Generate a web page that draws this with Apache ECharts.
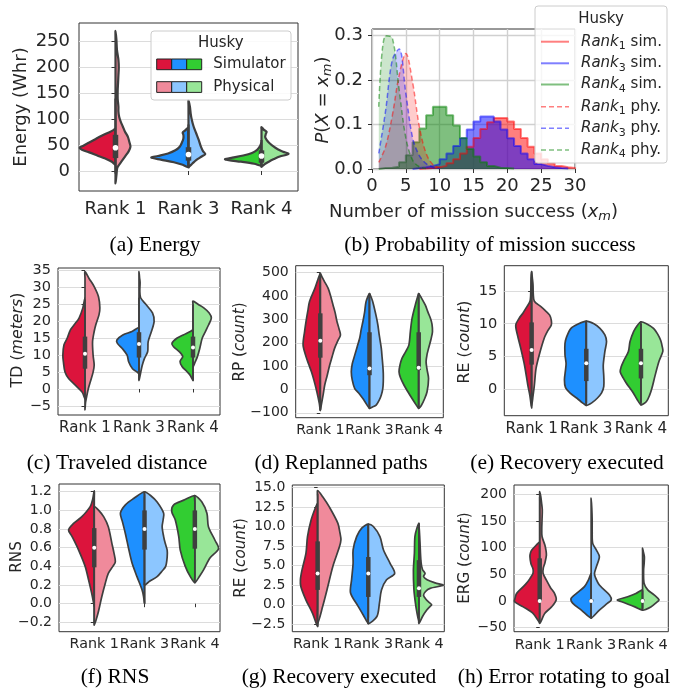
<!DOCTYPE html>
<html><head><meta charset="utf-8">
<script src="https://cdn.jsdelivr.net/npm/echarts@6/dist/echarts.min.js"></script>
<style>html,body{margin:0;padding:0;background:#fff}#c{width:679px;height:692px}</style>
</head><body><div id="c"></div><script>
const ranks = ['Rank 1', 'Rank 3', 'Rank 4'];
const simColors = ['#dc143c', '#1e90ff', '#32cd32'];
const phyColors = ['#f08a9b', '#8cc6ff', '#98e698'];

// ---------- (a) Energy ----------
const energyTicks = [0, 50, 100, 150, 200, 250];
const energySim = [
  [[12,0],[18,0.05],[24,0.14],[30,0.25],[36,0.36],[41,0.46],[45,0.49],[49,0.44],[55,0.36],[62,0.27],[68,0.19],[74,0.1],[79,0.03],[82,0]],
  [[7,0],[12,0.08],[17,0.2],[22,0.38],[26,0.51],[29,0.42],[34,0.28],[40,0.18],[47,0.12],[55,0.09],[63,0.07],[70,0.07],[74,0.08],[78,0.05],[84,0]],
  [[10,0],[14,0.1],[18,0.28],[21,0.45],[23,0.5],[26,0.4],[30,0.25],[35,0.13],[41,0.06],[48,0.02],[55,0]]
];
const energyPhy = [
  [[-24,0],[-12,0.01],[-5,0.015],[3,0.02],[8,0.03],[18,0.08],[28,0.13],[38,0.18],[47,0.205],[56,0.19],[66,0.17],[76,0.13],[86,0.1],[96,0.07],[105,0.05],[115,0.04],[124,0.04],[140,0.03],[155,0.03],[170,0.035],[185,0.04],[200,0.045],[215,0.04],[234,0.02],[255,0.012],[271,0]],
  [[8,0],[14,0.05],[21,0.105],[28,0.18],[33,0.23],[38,0.2],[47,0.17],[60,0.14],[73,0.105],[86,0.07],[99,0.045],[111,0.03],[124,0.02],[137,0]],
  [[8,0],[13,0.04],[18,0.1],[23,0.17],[28,0.25],[33,0.37],[37,0.3],[40,0.25],[45,0.19],[50,0.14],[55,0.1],[60,0.07],[66,0.05],[72,0.06],[76,0.07],[80,0.03],[85,0]]
];
const energyBox = [[-5,25,45,70,140],[8,20,32,46,90],[10,16,29,40,60]];

// ---------- (b) Probability of mission success ----------
const histX1 = [7,8,9,10,11,12,13,14,15,16,17,18,19,20,21,22,23,24,25,26,27,28,29];
const histP1 = [0.001,0.002,0.004,0.007,0.013,0.022,0.035,0.05,0.07,0.09,0.105,0.115,0.115,0.107,0.09,0.07,0.05,0.035,0.022,0.013,0.007,0.004,0.002];
const histX3 = [6,7,8,9,10,11,12,13,14,15,16,17,18,19,20,21,22,23,24,25,26,27,28];
const histP3 = [0.002,0.004,0.007,0.011,0.022,0.035,0.052,0.069,0.089,0.107,0.118,0.118,0.107,0.089,0.069,0.052,0.035,0.022,0.011,0.007,0.004,0.002,0.001];
const histX4 = [1,2,3,4,5,6,7,8,9,10,11,12,13,14,15,16,17,18,19,20];
const histP4 = [0.002,0.003,0.005,0.015,0.031,0.06,0.091,0.121,0.14,0.14,0.121,0.098,0.07,0.045,0.028,0.015,0.007,0.003,0.002,0.001];
const phyX1 = [1,2,3,4,5,6,7,8,9,10];
const phyP1 = [0.015,0.05,0.12,0.21,0.26,0.195,0.095,0.035,0.01,0.003];
const phyX3 = [1,2,3,4,5,6,7,8,9,10];
const phyP3 = [0.035,0.13,0.245,0.27,0.17,0.07,0.03,0.012,0.004,0.001];
const phyX4 = [1,2,3,4,5,6,7,8];
const phyP4 = [0.14,0.3,0.295,0.18,0.07,0.02,0.005,0.001];
const probTicks = [0, 0.1, 0.2, 0.3];

// ---------- (c) Traveled distance ----------
const tdTicks = [-5,0,5,10,15,20,25,30,35];
const tdSim = [
  [[-3,0],[-1,0.05],[1,0.17],[3,0.3],[5,0.37],[8,0.4],[10,0.41],[13,0.39],[15,0.33],[17.5,0.27],[19,0.2],[21,0.11],[24,0.04],[27,0]],
  [[4.5,0],[5.1,0.04],[6,0.12],[8,0.19],[10,0.22],[12,0.31],[13.5,0.4],[14.5,0.41],[16,0.3],[17,0.13],[18.2,0]],
  [[2.5,0],[4,0.05],[5.1,0.11],[6.6,0.2],[8.1,0.24],[9.6,0.19],[11,0.25],[12.5,0.36],[13.5,0.39],[15,0.3],[16,0.18],[17,0.05],[17.5,0]]
];
const tdPhy = [
  [[-6.2,0],[-4,0.01],[-2.7,0.025],[0,0.06],[2.2,0.1],[5,0.15],[7.1,0.17],[10,0.15],[14,0.14],[17,0.17],[19,0.2],[22,0.26],[24,0.275],[27.3,0.25],[30.3,0.17],[32.7,0.075],[34.7,0]],
  [[2.5,0],[4,0.02],[7,0.06],[9,0.1],[11,0.16],[14,0.17],[17,0.23],[20,0.28],[22.5,0.25],[25,0.13],[27,0.03],[29,0.015],[31.5,0.02],[33,0.01],[34.7,0]],
  [[6.5,0],[8,0.04],[9.5,0.08],[12,0.125],[15,0.17],[17,0.23],[19,0.29],[21,0.34],[22.5,0.3],[24,0.2],[25,0.1],[26,0]]
];
const tdBox = [[-2,6,10.4,15.5,26.5],[2.7,9.3,13.3,16.8,27],[2.5,9.3,12.3,15.5,25]];

// ---------- (d) Replanned paths ----------
const rpTicks = [-100,0,100,200,300,400,500];
const rpSim = [
  [[-90,0],[-60,0.02],[-10,0.07],[40,0.13],[76,0.18],[110,0.24],[147,0.3],[190,0.35],[247,0.32],[304,0.28],[340,0.25],[376,0.22],[433,0.11],[470,0.05],[497,0]],
  [[-81,0],[-60,0.07],[-39,0.135],[-15,0.22],[4,0.3],[40,0.35],[76,0.37],[110,0.35],[147,0.3],[183,0.25],[219,0.2],[255,0.17],[290,0.135],[330,0.1],[376,0.07],[411,0]],
  [[-81,0],[-60,0.07],[-39,0.135],[-10,0.22],[19,0.3],[50,0.37],[76,0.4],[105,0.38],[133,0.34],[160,0.27],[190,0.2],[247,0.17],[304,0.135],[361,0.07],[411,0]]
];
const rpPhy = [
  [[-90,0],[-67,0.02],[-20,0.06],[19,0.09],[60,0.14],[104,0.19],[140,0.24],[176,0.29],[210,0.36],[233,0.41],[260,0.38],[290,0.34],[330,0.3],[361,0.26],[400,0.21],[433,0.16],[460,0.09],[480,0.04],[497,0]],
  [[-81,0],[-75,0.06],[-67,0.135],[-45,0.2],[-24,0.24],[4,0.27],[33,0.28],[70,0.28],[104,0.27],[140,0.255],[176,0.24],[230,0.2],[276,0.17],[310,0.14],[347,0.1],[380,0.06],[411,0]],
  [[-81,0],[-70,0.05],[-40,0.12],[-10,0.17],[47,0.2],[85,0.17],[119,0.15],[150,0.17],[176,0.2],[215,0.25],[247,0.28],[280,0.27],[304,0.24],[330,0.19],[361,0.135],[390,0.06],[411,0]]
];
const rpBox = [[-88,136,209,326,495],[-80,61,90,245,410],[-80,83,93,245,410]];

// ---------- (e) Recovery executed ----------
const re1Ticks = [0,5,10,15];
const re1Sim = [
  [[-2.8,0],[-1,0.03],[0.7,0.07],[3.7,0.13],[6.3,0.2],[8.3,0.26],[9.8,0.29],[10.8,0.23],[11.6,0.16],[12.4,0.1],[13.4,0.03],[15,0.015],[17,0.01],[17.9,0]],
  [[-2.4,0],[-2,0.07],[-1.3,0.17],[-0.5,0.3],[0.3,0.38],[1.5,0.4],[3,0.38],[4,0.37],[5.3,0.39],[7,0.39],[8,0.36],[9.3,0.28],[10,0.14],[10.4,0]],
  [[-2.3,0],[-1.5,0.07],[-0.5,0.14],[0.2,0.2],[1,0.27],[1.7,0.32],[2.7,0.38],[3.5,0.36],[4.3,0.32],[5.8,0.23],[7.3,0.2],[8.8,0.135],[9.7,0.07],[10.3,0]]
];
const re1Phy = [
  [[-2.5,0],[-1,0.025],[0.7,0.05],[3.2,0.08],[5.3,0.14],[7.8,0.23],[9,0.3],[9.8,0.36],[10.5,0.36],[11.3,0.33],[12,0.25],[12.6,0.17],[13.4,0.05],[14.5,0.03],[15.9,0.025],[17,0.012],[17.9,0]],
  [[-2.4,0],[-2,0.1],[-1.3,0.2],[-0.5,0.28],[0.5,0.32],[2,0.32],[3.7,0.31],[5.8,0.34],[7.3,0.37],[8.3,0.34],[9.3,0.25],[10,0.14],[10.4,0]],
  [[-2.3,0],[-1.8,0.1],[-0.8,0.16],[0.2,0.2],[2.2,0.26],[4.3,0.33],[5.8,0.4],[6.5,0.39],[7.5,0.36],[8.5,0.3],[9.3,0.23],[10,0.1],[10.3,0]]
];
const re1Box = [[-2,3.8,6,10.2,17],[-2,1.3,4,6.2,10.3],[-2,1.7,4,6.2,10]];

// ---------- (f) RNS ----------
const rnsTicks = [-0.2,0.0,0.2,0.4,0.6,0.8,1.0,1.2];
const rnsSim = [
  [[-0.03,0],[0.0,0.01],[0.11,0.05],[0.25,0.11],[0.4,0.18],[0.575,0.31],[0.72,0.44],[0.79,0.51],[0.86,0.41],[0.93,0.25],[1.04,0.08],[1.12,0.03],[1.21,0]],
  [[0,0],[0.08,0.02],[0.15,0.05],[0.29,0.15],[0.43,0.245],[0.575,0.31],[0.75,0.38],[0.88,0.44],[0.97,0.48],[1.06,0.38],[1.13,0.21],[1.2,0]],
  [[0.225,0],[0.29,0.09],[0.4,0.19],[0.575,0.29],[0.72,0.32],[0.9,0.39],[0.99,0.46],[1.06,0.42],[1.11,0.22],[1.16,0]]
];
const rnsPhy = [
  [[-0.23,0],[-0.15,0.05],[-0.07,0.09],[0.075,0.15],[0.22,0.22],[0.325,0.28],[0.4,0.37],[0.45,0.42],[0.55,0.39],[0.65,0.35],[0.825,0.28],[0.93,0.19],[1.0,0.09],[1.04,0]],
  [[0.2,0],[0.24,0.1],[0.29,0.25],[0.35,0.35],[0.4,0.42],[0.5,0.45],[0.575,0.45],[0.65,0.41],[0.72,0.38],[0.825,0.35],[0.9,0.37],[0.97,0.38],[1.09,0.25],[1.16,0.12],[1.2,0]],
  [[0.225,0],[0.3,0.1],[0.36,0.17],[0.49,0.3],[0.59,0.47],[0.68,0.4],[0.825,0.27],[0.97,0.24],[1.09,0.14],[1.16,0]]
];
const rnsBox = [[-0.2,0.39,0.6,0.81,1.2],[0.0,0.58,0.8,1.0,1.2],[0.225,0.59,0.8,1.0,1.16]];

// ---------- (g) Recovery executed ----------
const re2Ticks = [-2.5,0,2.5,5,7.5,10,12.5,15];
const re2Sim = [
  [[-2.8,0],[-1.1,0.1],[0.6,0.23],[2.3,0.33],[3.2,0.34],[4.4,0.31],[6.6,0.23],[8.7,0.2],[10.8,0.13],[12.3,0.05],[13,0]],
  [[-2.4,0],[-1.3,0.1],[-0.2,0.2],[1.5,0.35],[3.2,0.33],[5.3,0.3],[7.0,0.3],[8.7,0.23],[9.8,0.13],[10.3,0]],
  [[-2.2,0],[-1,0.04],[0.2,0.07],[2,0.1],[4.4,0.11],[6.6,0.09],[8.7,0.08],[9.8,0.04],[10.4,0]]
];
const re2Phy = [
  [[-2.4,0],[-0.2,0.1],[2.3,0.2],[4.9,0.3],[7.4,0.43],[8.3,0.46],[9.2,0.44],[10.4,0.4],[12.5,0.23],[13.8,0.1],[14.6,0]],
  [[-2.4,0],[-1.5,0.17],[0.2,0.22],[1.9,0.26],[3.2,0.36],[4.0,0.52],[5.3,0.43],[7.0,0.3],[8.7,0.23],[10.0,0.1],[10.3,0]],
  [[-2.4,0],[-1.5,0.07],[-0.7,0.15],[-0.2,0.22],[0,0.25],[0.3,0.2],[0.6,0.15],[1.2,0.09],[1.7,0.13],[2.1,0.22],[2.5,0.48],[2.8,0.32],[3.2,0.16],[3.6,0.09],[4.0,0.12],[4.5,0.07],[5.5,0.04],[8,0.02],[10.4,0]]
];
const re2Box = [[-2.3,1.9,4,8.1,14.2],[-2.3,1.0,4,6.1,10.3],[-2.3,1.0,2.1,5.7,10.3]];

// ---------- (h) Error rotating to goal ----------
const ergTicks = [-50,0,50,100,150,200];
const ergSim = [
  [[-40,0],[-23,0.13],[-11,0.32],[-1,0.49],[5,0.48],[14,0.45],[25,0.34],[33,0.26],[42,0.19],[52,0.13],[60,0.13],[70,0.17],[83,0.19],[90,0.18],[96,0.15],[105,0.065],[111,0]],
  [[-32,0],[-17,0.19],[-4,0.36],[5,0.39],[14,0.29],[27,0.13],[40,0.05],[52,0]],
  [[-17,0],[-11,0.15],[-1,0.42],[2,0.49],[8,0.29],[14,0.13],[21,0]]
];
const ergPhy = [
  [[-42,0],[-23,0.1],[-11,0.23],[2,0.32],[14,0.29],[25,0.21],[39,0.13],[52,0.065],[62,0.07],[71,0.1],[86,0.13],[96,0.12],[105,0.1],[121,0.045],[135,0.04],[152,0.045],[171,0.05],[185,0.035],[196,0.02],[205,0]],
  [[-32,0],[-17,0.16],[-4,0.32],[2,0.39],[11,0.36],[30,0.16],[45,0.08],[52,0.065],[64,0.1],[83,0.16],[96,0.1],[108,0.03],[130,0.02],[152,0.02],[175,0.012],[193,0]],
  [[-17,0],[-11,0.16],[-1,0.29],[2,0.32],[11,0.23],[21,0.1],[33,0.03],[58,0.02],[70,0.03],[83,0.035],[92,0.015],[99,0]]
];
const ergBox = [[-40,-1,0,80,195],[-30,-1,0,3,50],[-15,-1,0,3,20]];

// ================= build =================
const SANS = 'DejaVu Sans';
const SERIF = 'Liberation Serif';
const TXT = '#262626';
const OUT = '#3f3f3f';
const minus = s => String(s).replace('-', '\u2212');

const option = { animation: false, backgroundColor: '#ffffff', grid: [], xAxis: [], yAxis: [], series: [], graphic: [] };

function addViolinPanel(P) {
  const gi = option.grid.length;
  const big = !!P.big;
  option.grid.push({ left: P.g[0], top: P.g[1], width: P.g[2], height: P.g[3], show: true,
    borderColor: '#333333', borderWidth: 1, backgroundColor: 'rgba(0,0,0,0)' });
  option.xAxis.push({ gridIndex: gi, type: 'value', min: P.x[0], max: P.x[1],
    axisLine: { show: false }, splitLine: { show: false },
    axisTick: { show: true, customValues: [0, 1, 2], length: big ? 4 : 3.5, lineStyle: { color: '#333', width: 1 } },
    axisLabel: { customValues: [0, 1, 2], formatter: v => ranks[Math.round(v)], fontSize: P.fx, fontFamily: SANS, color: TXT, margin: big ? 9 : 6 } });
  option.yAxis.push({ gridIndex: gi, type: 'value', min: P.y[0], max: P.y[1],
    axisLine: { show: false },
    axisTick: { show: true, customValues: P.ticks, length: big ? 4 : 3.5, lineStyle: { color: '#333', width: 1 } },
    axisLabel: { customValues: P.ticks, formatter: v => minus(v.toFixed(P.dec)), fontSize: P.fy, fontFamily: SANS, color: TXT, margin: big ? 9 : 7 },
    splitLine: { show: true, lineStyle: { color: '#dcdcdc', width: 1.2 } } });
  const lw = big ? 2.2 : 1.7;
  option.series.push({
    type: 'custom', xAxisIndex: gi, yAxisIndex: gi, z: 3,
    data: ranks.map((r, i) => [i, P.box[i][2]]),
    renderItem: function (params, api) {
      const i = params.dataIndex;
      const half = (prof, side) => {
        const outer = prof.map(p => api.coord([i + side * p[1], p[0]]));
        const inner = prof.slice(1, -1).reverse().map(p => api.coord([i, p[0]]));
        return outer.concat(inner);
      };
      const b = P.box[i];
      const c = a => api.coord([i, a]);
      const lo = c(b[0]), q1 = c(b[1]), md = c(b[2]), q3 = c(b[3]), hi = c(b[4]);
      return { type: 'group', children: [
        { type: 'polygon', shape: { points: half(P.sim[i], -1), smooth: 0.3 }, style: { fill: simColors[i], stroke: OUT, lineWidth: lw, lineJoin: 'round' } },
        { type: 'polygon', shape: { points: half(P.phy[i], 1), smooth: 0.3 }, style: { fill: phyColors[i], stroke: OUT, lineWidth: lw, lineJoin: 'round' } },
        { type: 'line', shape: { x1: lo[0], y1: lo[1], x2: hi[0], y2: hi[1] }, style: { stroke: OUT, lineWidth: lw } },
        { type: 'line', shape: { x1: q1[0], y1: q1[1], x2: q3[0], y2: q3[1] }, style: { stroke: OUT, lineWidth: big ? 5.5 : 4.5, lineCap: 'butt' } },
        { type: 'circle', shape: { cx: md[0], cy: md[1], r: big ? 2.8 : 2 }, style: { fill: '#ffffff', stroke: null } }
      ] };
    }
  });
}

function addHistPanel() {
  const gi = option.grid.length;
  option.grid.push({ left: 372, top: 29, width: 203, height: 140, show: true, borderColor: '#333333', borderWidth: 1, backgroundColor: 'rgba(0,0,0,0)' });
  option.xAxis.push({ gridIndex: gi, type: 'value', min: 0, max: 30, interval: 5,
    axisLine: { show: false }, axisTick: { show: true, length: 4, lineStyle: { color: '#333' } },
    axisLabel: { fontSize: 18, fontFamily: SANS, color: TXT, margin: 8 },
    splitLine: { show: true, lineStyle: { color: '#d0d0d0', width: 1.4 } } });
  option.yAxis.push({ gridIndex: gi, type: 'value', min: 0, max: 0.315,
    axisLine: { show: false }, axisTick: { show: true, customValues: probTicks, length: 4, lineStyle: { color: '#333' } },
    axisLabel: { customValues: probTicks, formatter: v => v.toFixed(1), fontSize: 18, fontFamily: SANS, color: TXT, margin: 9 },
    splitLine: { show: true, lineStyle: { color: '#d0d0d0', width: 1.4 } } });
  const stepData = (xs, ps) => [[xs[0], 0]].concat(xs.map((x, k) => [x, ps[k]])).concat([[xs[xs.length - 1] + 1, 0]]);
  const sims = [[histX1, histP1, '#ff0000'], [histX3, histP3, '#0000ff'], [histX4, histP4, '#008000']];
  sims.forEach(s => option.series.push({ type: 'line', xAxisIndex: gi, yAxisIndex: gi, step: 'end', symbol: 'none',
    data: stepData(s[0], s[1]), lineStyle: { color: s[2], width: 2, opacity: 0.5 }, itemStyle: { color: s[2] },
    areaStyle: { color: s[2], opacity: 0.5 }, z: 2 }));
  const phys = [[phyX1, phyP1, '#ff0000'], [phyX3, phyP3, '#0000ff'], [phyX4, phyP4, '#008000']];
  phys.forEach(s => option.series.push({ type: 'line', xAxisIndex: gi, yAxisIndex: gi, smooth: 0.35, symbol: 'none',
    data: s[0].map((x, k) => [x, s[1][k]]), lineStyle: { color: s[2], width: 1.5, opacity: 0.5, type: [5, 3] }, itemStyle: { color: s[2] },
    areaStyle: { color: s[2], opacity: 0.2 }, z: 3 }));
}

addViolinPanel({ g: [79, 23, 219, 168], x: [-0.5, 2.5], y: [-38.6, 286], ticks: energyTicks, sim: energySim, phy: energyPhy, box: energyBox, big: true, dec: 0, fx: 18, fy: 18 });
addHistPanel();
addViolinPanel({ g: [58, 268, 162, 147], x: [-0.5, 2.5], y: [-7.7, 35.8], ticks: tdTicks, sim: tdSim, phy: tdPhy, box: tdBox, dec: 0, fx: 15, fy: 14.5 });
addViolinPanel({ g: [295.7, 265.7, 147.6, 152], x: [-0.5, 2.5], y: [-121, 530], ticks: rpTicks, sim: rpSim, phy: rpPhy, box: rpBox, dec: 0, fx: 14, fy: 14 });
addViolinPanel({ g: [504.3, 265.7, 164, 150], x: [-0.5, 2.5], y: [-3.95, 18.8], ticks: re1Ticks, sim: re1Sim, phy: re1Phy, box: re1Box, dec: 0, fx: 15.2, fy: 14.6 });
addViolinPanel({ g: [59, 484, 161, 147.7], x: [-0.7, 2.5], y: [-0.3, 1.283], ticks: rnsTicks, sim: rnsSim, phy: rnsPhy, box: rnsBox, dec: 1, fx: 14.3, fy: 14 });
addViolinPanel({ g: [292.3, 485, 152, 146.7], x: [-0.5, 2.5], y: [-3.44, 15.3], ticks: re2Ticks, sim: re2Sim, phy: re2Phy, box: re2Box, dec: 1, fx: 14.3, fy: 14 });
addViolinPanel({ g: [514, 485, 154.3, 146.7], x: [-0.5, 2.5], y: [-57.5, 217.5], ticks: ergTicks, sim: ergSim, phy: ergPhy, box: ergBox, dec: 0, fx: 14.5, fy: 14 });

// ---------- text helpers ----------
function richSet(size) {
  const lh = Math.round(size * 1.3);
  return {
    n: { fontSize: size, fontFamily: SANS, fill: TXT, lineHeight: lh, verticalAlign: 'middle' },
    it: { fontSize: size, fontFamily: SANS, fontStyle: 'italic', fill: TXT, lineHeight: lh, verticalAlign: 'middle' },
    sub: { fontSize: Math.round(size * 0.7), fontFamily: SANS, fill: TXT, lineHeight: Math.round(size * 0.7), verticalAlign: 'bottom' },
    subi: { fontSize: Math.round(size * 0.7), fontFamily: SANS, fontStyle: 'italic', fill: TXT, lineHeight: Math.round(size * 0.7), verticalAlign: 'bottom' }
  };
}
function label(x, y, text, size, rot, align) {
  return { type: 'text', x: x, y: y, rotation: rot || 0, z: 100,
    style: { text: text, rich: richSet(size), fontSize: size, fontFamily: SANS, fill: TXT, align: align || 'center', verticalAlign: 'middle' } };
}
const G = option.graphic;
// axis titles
G.push(label(21, 107, '{n|Energy (Whr)}', 18, Math.PI / 2));
G.push(label(323, 100, '{it|P}{n|(}{it|X}{n| = }{it|x}{subi|m}{n|)}', 18, Math.PI / 2));
G.push(label(473.5, 212, '{n|Number of mission success (}{it|x}{subi|m}{n|)}', 18, 0));
G.push(label(18, 340, '{n|TD (}{it|meters}{n|)}', 15.8, Math.PI / 2));
G.push(label(240, 342, '{n|RP (}{it|count}{n|)}', 15.2, Math.PI / 2));
G.push(label(465, 342, '{n|RE (}{it|count}{n|)}', 15.8, Math.PI / 2));
G.push(label(17, 557, '{n|RNS}', 15.2, Math.PI / 2));
G.push(label(241, 558, '{n|RE (}{it|count}{n|)}', 15.2, Math.PI / 2));
G.push(label(465, 558, '{n|ERG (}{it|count}{n|)}', 15.2, Math.PI / 2));

// captions
const captions = [['(a) Energy', 155, 245], ['(b) Probability of mission success', 490, 245],
  ['(c) Traveled distance', 117, 463], ['(d) Replanned paths', 341, 463], ['(e) Recovery executed', 567, 463],
  ['(f) RNS', 115, 677], ['(g) Recovery executed', 339, 677], ['(h) Error rotating to goal', 564, 677]];
captions.forEach(c => G.push({ type: 'text', x: c[1], y: c[2], z: 100,
  style: { text: c[0], fontSize: 21.5, fontFamily: SERIF, fill: '#000', align: 'center', verticalAlign: 'middle' } }));

// legend (a)
G.push({ type: 'rect', shape: { x: 151, y: 31, width: 140, height: 69, r: 3 }, z: 90,
  style: { fill: 'rgba(255,255,255,0.85)', stroke: '#cccccc', lineWidth: 1 } });
G.push(label(220.7, 43, '{n|Husky}', 15, 0));
[[simColors, 64.3, 'Simulator'], [phyColors, 87, 'Physical']].forEach(row => {
  row[0].forEach((col, k) => G.push({ type: 'rect', z: 95, shape: { x: 156.7 + k * 15, y: row[1] - 5.3, width: 15, height: 10.7 },
    style: { fill: col, stroke: '#222', lineWidth: 1 } }));
  G.push(label(213.3, row[1], '{n|' + row[2] + '}', 15, 0, 'left'));
});

// legend (b)
G.push({ type: 'rect', shape: { x: 535, y: 6, width: 132, height: 157, r: 3 }, z: 90,
  style: { fill: 'rgba(255,255,255,0.8)', stroke: '#cccccc', lineWidth: 1 } });
G.push(label(601, 19.5, '{n|Husky}', 15, 0));
const legB = [['#ff0000', '1', 'sim.', false], ['#0000ff', '3', 'sim.', false], ['#008000', '4', 'sim.', false],
  ['#ff0000', '1', 'phy.', true], ['#0000ff', '3', 'phy.', true], ['#008000', '4', 'phy.', true]];
const legBY = [41.7, 63.3, 84.5, 106.7, 128.3, 150];
legB.forEach((e, k) => {
  G.push({ type: 'line', z: 95, shape: { x1: 541, y1: legBY[k], x2: 569, y2: legBY[k] },
    style: { stroke: e[0], opacity: 0.5, lineWidth: e[3] ? 1.5 : 2, lineDash: e[3] ? [5, 3] : null } });
  G.push(label(581, legBY[k], '{it|Rank}{sub|' + e[1] + '}{n| ' + e[2] + '}', 15, 0, 'left'));
});

const chart = echarts.init(document.getElementById('c'), null, { renderer: 'canvas' });
chart.setOption(option);
</script></body></html>
